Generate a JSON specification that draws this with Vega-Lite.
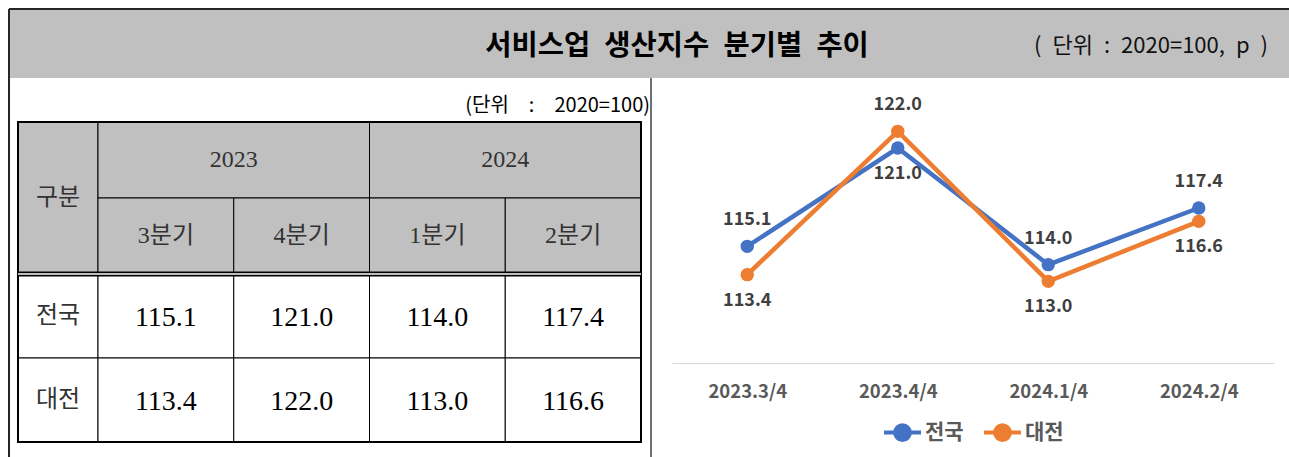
{
  "$schema": "https://vega.github.io/schema/vega-lite/v6.json",
  "padding": {"left": 8, "top": 8, "right": 0, "bottom": 0},
  "background": "white",
  "bounds": "flush",
  "spacing": 0,
  "config": {"view": {"stroke": null}},
  "vconcat": [
    {
      "width": 1281,
      "height": 69,
      "view": {"fill": "#c0c0c0", "stroke": null},
      "data": {"values": [{}]},
      "layer": [
        {
          "mark": {"type": "text", "font": "Noto Sans CJK KR", "fontSize": 28.5, "fontWeight": "bold", "color": "#000000", "baseline": "middle", "align": "center"},
          "encoding": {
            "x": {"datum": 0.5215, "type": "quantitative", "scale": {"domain": [0, 1], "nice": false}, "axis": null},
            "y": {"datum": 0.464, "type": "quantitative", "scale": {"domain": [0, 1], "nice": false}, "axis": null},
            "text": {"value": "서비스업\u2002생산지수\u2002분기별\u2002추이"}
          }
        },
        {
          "mark": {"type": "text", "font": "Noto Sans CJK KR", "fontSize": 22, "color": "#111111", "baseline": "middle", "align": "center"},
          "encoding": {
            "x": {"datum": 0.8915, "type": "quantitative"},
            "y": {"datum": 0.464, "type": "quantitative"},
            "text": {"value": "(\u2002단위\u2002:\u20022020=100,\u2002p\u2002)"}
          }
        },
        {
          "mark": {"type": "rule", "color": "#262626", "strokeWidth": 2},
          "encoding": {"x": {"datum": 0}, "x2": {"datum": 1}, "y": {"datum": 1}}
        },
        {
          "mark": {"type": "rule", "color": "#262626", "strokeWidth": 2},
          "encoding": {"x": {"datum": 0}, "y": {"datum": 0}, "y2": {"datum": 1}}
        }
      ]
    },
    {
      "hconcat": [
        {
          "width": 642,
          "height": 380,
          "data": {"values": [
            {"c": 0, "c2": 1, "r": 0, "r2": 2, "label": "구분", "part": "head", "kind": "hd"},
            {"c": 1, "c2": 3, "r": 0, "r2": 1, "label": "2023", "part": "head", "kind": "hd"},
            {"c": 3, "c2": 5, "r": 0, "r2": 1, "label": "2024", "part": "head", "kind": "hd"},
            {"c": 1, "c2": 2, "r": 1, "r2": 2, "label": "3분기", "part": "head", "kind": "hd"},
            {"c": 2, "c2": 3, "r": 1, "r2": 2, "label": "4분기", "part": "head", "kind": "hd"},
            {"c": 3, "c2": 4, "r": 1, "r2": 2, "label": "1분기", "part": "head", "kind": "hd"},
            {"c": 4, "c2": 5, "r": 1, "r2": 2, "label": "2분기", "part": "head", "kind": "hd"},
            {"c": 0, "c2": 1, "r": 2, "r2": 3, "label": "전국", "part": "body", "kind": "hd"},
            {"c": 1, "c2": 2, "r": 2, "r2": 3, "v": 115.1, "part": "body", "kind": "val"},
            {"c": 2, "c2": 3, "r": 2, "r2": 3, "v": 121.0, "part": "body", "kind": "val"},
            {"c": 3, "c2": 4, "r": 2, "r2": 3, "v": 114.0, "part": "body", "kind": "val"},
            {"c": 4, "c2": 5, "r": 2, "r2": 3, "v": 117.4, "part": "body", "kind": "val"},
            {"c": 0, "c2": 1, "r": 3, "r2": 4, "label": "대전", "part": "body", "kind": "hd"},
            {"c": 1, "c2": 2, "r": 3, "r2": 4, "v": 113.4, "part": "body", "kind": "val"},
            {"c": 2, "c2": 3, "r": 3, "r2": 4, "v": 122.0, "part": "body", "kind": "val"},
            {"c": 3, "c2": 4, "r": 3, "r2": 4, "v": 113.0, "part": "body", "kind": "val"},
            {"c": 4, "c2": 5, "r": 3, "r2": 4, "v": 116.6, "part": "body", "kind": "val"}
          ]},
          "transform": [
            {"calculate": "(datum.c + datum.c2) / 2", "as": "cm"},
            {"calculate": "(datum.r + datum.r2) / 2", "as": "rm"}
          ],
          "layer": [
            {
              "mark": {"type": "rect", "stroke": "#000000", "strokeWidth": 1},
              "encoding": {
                "x": {"field": "c", "type": "quantitative", "scale": {"domain": [-1, 0, 1, 5, 6], "range": [0, 9, 89, 632, 642], "nice": false, "zero": false}, "axis": null},
                "x2": {"field": "c2"},
                "y": {"field": "r", "type": "quantitative", "scale": {"domain": [-1, 0, 2, 4, 5], "range": [0, 44, 196, 364, 380], "nice": false, "zero": false}, "axis": null},
                "y2": {"field": "r2"},
                "fill": {"field": "part", "type": "nominal", "scale": {"domain": ["head", "body"], "range": ["#c0c0c0", "#ffffff"]}, "legend": null}
              }
            },
            {
              "data": {"values": [{}]},
              "mark": {"type": "rect", "filled": false, "stroke": "#000000", "strokeWidth": 2},
              "encoding": {"x": {"datum": 0}, "x2": {"datum": 5}, "y": {"datum": 0}, "y2": {"datum": 4}}
            },
            {
              "data": {"values": [{}]},
              "mark": {"type": "rule", "color": "#000000", "strokeWidth": 5},
              "encoding": {"x": {"datum": 0}, "x2": {"datum": 5}, "y": {"datum": 2}}
            },
            {
              "data": {"values": [{}]},
              "mark": {"type": "rule", "color": "#ffffff", "strokeWidth": 1.6},
              "encoding": {"x": {"datum": 0}, "x2": {"datum": 5}, "y": {"datum": 2}}
            },
            {
              "transform": [{"filter": "datum.kind == 'hd'"}],
              "mark": {"type": "text", "font": "Liberation Serif, Noto Sans CJK KR", "fontSize": 24, "color": "#333333", "baseline": "middle", "align": "center"},
              "encoding": {"x": {"field": "cm", "type": "quantitative"}, "y": {"field": "rm", "type": "quantitative"}, "text": {"field": "label"}}
            },
            {
              "transform": [{"filter": "datum.kind == 'val'"}],
              "mark": {"type": "text", "font": "Liberation Serif", "fontSize": 28, "color": "#000000", "baseline": "middle", "align": "center", "dy": 2},
              "encoding": {"x": {"field": "cm", "type": "quantitative"}, "y": {"field": "rm", "type": "quantitative"}, "text": {"field": "v", "type": "quantitative", "format": ".1f"}}
            },
            {
              "data": {"values": [{}]},
              "mark": {"type": "text", "font": "Noto Sans CJK KR", "fontSize": 20, "color": "#000000", "baseline": "bottom", "align": "right", "dx": 9, "dy": -6},
              "encoding": {"x": {"datum": 5}, "y": {"datum": 0}, "text": {"value": "(단위\u2003:\u20032020=100)"}}
            },
            {
              "data": {"values": [{}]},
              "mark": {"type": "rule", "color": "#262626", "strokeWidth": 2},
              "encoding": {"x": {"datum": -1}, "y": {"datum": -1}, "y2": {"datum": 5}}
            },
            {
              "data": {"values": [{}]},
              "mark": {"type": "rule", "color": "#404040", "strokeWidth": 1.5},
              "encoding": {"x": {"datum": 6}, "y": {"datum": -1}, "y2": {"datum": 5}}
            }
          ]
        },
        {
          "width": 602,
          "height": 285,
          "data": {"values": [
            {"q": "2023.3/4", "s": "전국", "v": 115.1},
            {"q": "2023.4/4", "s": "전국", "v": 121.0},
            {"q": "2024.1/4", "s": "전국", "v": 114.0},
            {"q": "2024.2/4", "s": "전국", "v": 117.4},
            {"q": "2023.3/4", "s": "대전", "v": 113.4},
            {"q": "2023.4/4", "s": "대전", "v": 122.0},
            {"q": "2024.1/4", "s": "대전", "v": 113.0},
            {"q": "2024.2/4", "s": "대전", "v": 116.6}
          ]},
          "encoding": {
            "x": {"field": "q", "type": "nominal", "sort": ["2023.3/4", "2023.4/4", "2024.1/4", "2024.2/4"], "title": null,
              "axis": {"labelAngle": 0, "domainColor": "#d9d9d9", "domainWidth": 1, "ticks": false, "grid": false, "labelFont": "Noto Sans CJK KR", "labelFontWeight": "bold", "labelFontSize": 18.5, "labelColor": "#595959", "labelPadding": 19}},
            "y": {"field": "v", "type": "quantitative", "scale": {"domain": [108.1, 125.2], "nice": false, "zero": false}, "axis": null}
          },
          "layer": [
            {
              "mark": {"type": "line", "strokeWidth": 4.5},
              "encoding": {
                "color": {"field": "s", "type": "nominal", "scale": {"domain": ["전국", "대전"], "range": ["#4472c4", "#ed7d31"]},
                  "legend": {"orient": "none", "legendX": 873, "legendY": 403, "direction": "horizontal", "title": null,
                    "symbolType": "M-1,0L1,0M-0.4,0A0.4,0.4,0,1,0,0.4,0A0.4,0.4,0,1,0,-0.4,0Z", "symbolSize": 1369, "symbolStrokeWidth": 4,
                    "labelFont": "Noto Sans CJK KR", "labelFontSize": 21, "labelFontWeight": "bold", "labelColor": "#595959", "columnPadding": 12, "labelOffset": 2}}
              }
            },
            {
              "mark": {"type": "point", "filled": true, "size": 180, "opacity": 1},
              "encoding": {"color": {"field": "s", "type": "nominal"}}
            },
            {
              "transform": [
                {"joinaggregate": [{"op": "max", "field": "v", "as": "mx"}], "groupby": ["q"]},
                {"filter": "datum.v == datum.mx"}
              ],
              "mark": {"type": "text", "font": "Noto Sans CJK KR", "fontSize": 18, "fontWeight": "bold", "color": "#404040", "dy": -26, "baseline": "middle"},
              "encoding": {"text": {"field": "v", "type": "quantitative", "format": ".1f"}}
            },
            {
              "transform": [
                {"joinaggregate": [{"op": "max", "field": "v", "as": "mx"}], "groupby": ["q"]},
                {"filter": "datum.v < datum.mx"}
              ],
              "mark": {"type": "text", "font": "Noto Sans CJK KR", "fontSize": 18, "fontWeight": "bold", "color": "#404040", "dy": 26, "baseline": "middle"},
              "encoding": {"text": {"field": "v", "type": "quantitative", "format": ".1f"}}
            }
          ]
        }
      ],
      "spacing": 20
    }
  ]
}
